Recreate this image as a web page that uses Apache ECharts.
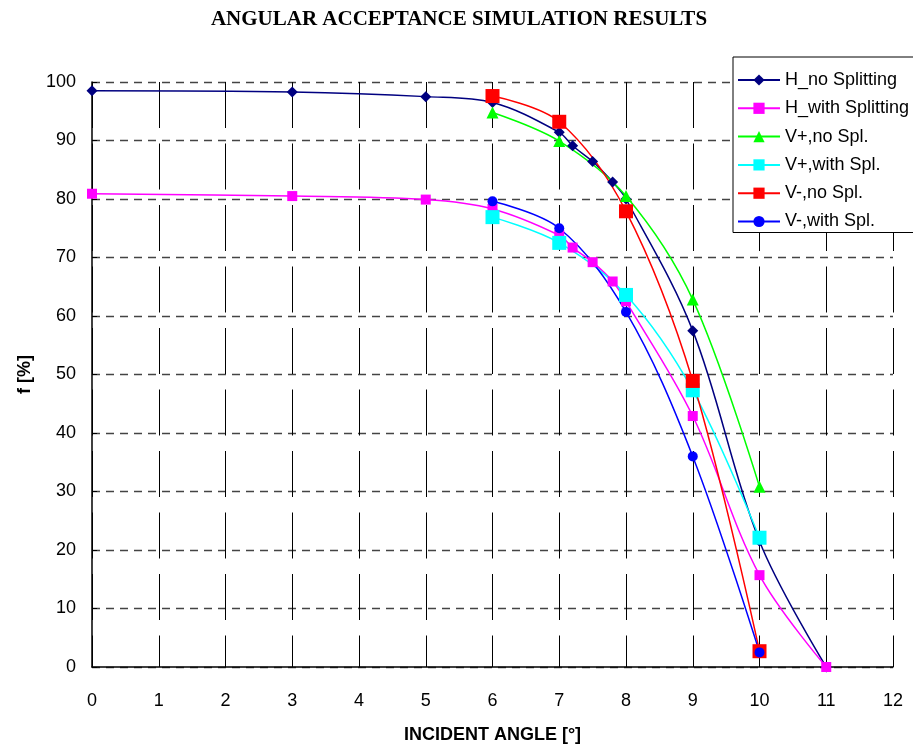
<!DOCTYPE html>
<html>
<head>
<meta charset="utf-8">
<script src="https://cdn.jsdelivr.net/npm/echarts@6/dist/echarts.min.js"></script>
<style>
  html, body { margin: 0; padding: 0; background: #fff; }
  #chart { width: 913px; height: 749px; }
</style>
</head>
<body>
<div id="chart"></div>
<script>
// angle values (deg)
const hAngles = [0, 3, 5, 6, 7, 7.2, 7.5, 7.8, 8, 9, 10, 11];
const vAngles = [6, 7, 8, 9, 10];

// f [%] per series
const hNoSplit = [98.5, 98.3, 97.5, 96.5, 91.4, 89.1, 86.4, 82.9, 80.0, 57.5, 21.5, 0];
const hWithSplit = [80.9, 80.5, 79.9, 78.3, 73.8, 71.7, 69.2, 65.9, 62.5, 42.9, 15.7, 0];
const vPlusNo = [94.8, 89.9, 80.5, 62.8, 30.8];
const vPlusWith = [76.9, 72.5, 63.6, 47.3, 22.1];
const vMinusNo = [97.6, 93.2, 77.9, 48.9, 2.7];
const vMinusWith = [79.6, 75.0, 60.7, 36.0, 2.5];

const zip = (xs, ys) => xs.map((x, i) => [x, ys[i]]);

const chart = echarts.init(document.getElementById('chart'));

function line(name, xs, ys, color, symbol, size) {
  return {
    name: name,
    type: 'line',
    data: zip(xs, ys),
    smooth: 0.35,
    symbol: symbol,
    symbolSize: size,
    showAllSymbol: true,
    lineStyle: { color: color, width: 1.5 },
    itemStyle: { color: color },
    emphasis: { disabled: true },
  };
}

const option = {
  backgroundColor: '#fff',
  animation: false,
  graphic: [
    {
      type: 'text',
      x: 459,
      y: 20,
      style: {
        text: 'ANGULAR ACCEPTANCE SIMULATION RESULTS',
        font: 'bold 21px "Liberation Serif", "Times New Roman", serif',
        fill: '#000',
        textAlign: 'center',
        textVerticalAlign: 'middle',
      },
    },
  ],
  grid: { left: 92, right: 20, top: 82, bottom: 76 },
  legend: {
    orient: 'vertical',
    left: 733,
    top: 57,
    padding: [14, 12, 2, 4],
    itemGap: 10.3,
    itemWidth: 42,
    itemHeight: 14,
    itemTextGap: 5,
    backgroundColor: '#fff',
    borderColor: '#000',
    borderWidth: 1,
    borderRadius: 0,
    textStyle: { fontFamily: 'Arial, "Liberation Sans", sans-serif', fontSize: 18, color: '#000', lineHeight: 18 },
  },
  xAxis: {
    type: 'value',
    min: 0,
    max: 12,
    interval: 1,
    name: 'INCIDENT ANGLE [°]',
    nameLocation: 'middle',
    nameGap: 59,
    nameTextStyle: { fontFamily: 'Arial, "Liberation Sans", sans-serif', fontSize: 18, fontWeight: 'bold', color: '#000' },
    axisLine: { lineStyle: { color: '#000', width: 1.5 } },
    axisTick: { inside: true, length: 5, lineStyle: { color: '#000' } },
    axisLabel: { fontFamily: 'Arial, "Liberation Sans", sans-serif', fontSize: 18, color: '#000', margin: 25 },
    splitLine: {
      show: true,
      lineStyle: { color: '#000', width: 1, type: [46, 15.5] },
    },
  },
  yAxis: {
    type: 'value',
    min: 0,
    max: 100,
    interval: 10,
    name: 'f [%]',
    nameLocation: 'middle',
    nameGap: 58,
    nameTextStyle: { fontFamily: 'Arial, "Liberation Sans", sans-serif', fontSize: 18, fontWeight: 'bold', color: '#000' },
    axisLine: { show: true, lineStyle: { color: '#000', width: 1.5 } },
    axisTick: { show: true, inside: true, length: 5, lineStyle: { color: '#000' } },
    axisLabel: { fontFamily: 'Arial, "Liberation Sans", sans-serif', fontSize: 18, color: '#000', margin: 16 },
    splitLine: {
      show: true,
      lineStyle: { color: '#444', width: 1.3, type: [8, 6] },
    },
  },
  series: [
    line('H_no Splitting', hAngles, hNoSplit, '#000080', 'diamond', 11),
    line('H_with Splitting', hAngles, hWithSplit, '#FF00FF', 'rect', 10),
    line('V+,no Spl.', vAngles, vPlusNo, '#00FF00', 'triangle', 12),
    line('V+,with Spl.', vAngles, vPlusWith, '#00FFFF', 'rect', 14),
    line('V-,no Spl.', vAngles, vMinusNo, '#FF0000', 'rect', 14),
    line('V-,with Spl.', vAngles, vMinusWith, '#0000FF', 'circle', 10),
  ],
};

chart.setOption(option);
</script>
</body>
</html>
